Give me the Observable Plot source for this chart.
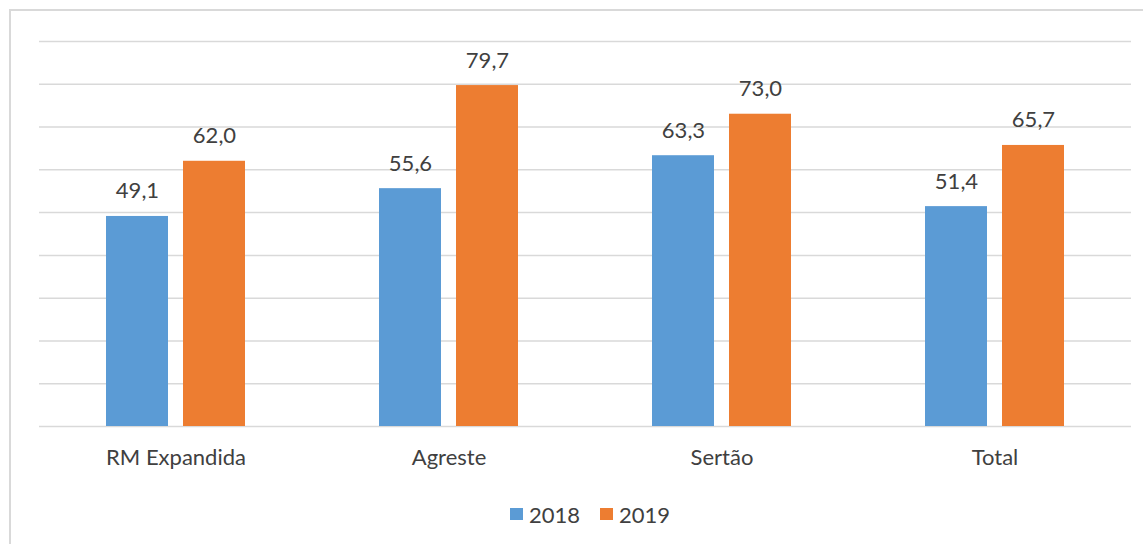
<!DOCTYPE html>
<html>
<head>
<meta charset="utf-8">
<script src="https://cdn.jsdelivr.net/npm/d3@7"></script>
<script src="https://cdn.jsdelivr.net/npm/@observablehq/plot@0.6"></script>
<style>
  html, body { margin: 0; padding: 0; background: #fff; width: 1143px; height: 544px; overflow: hidden; }
  #frame { position: absolute; left: 9px; top: 9px; width: 1300px; height: 700px; border-top: 2px solid #d9d9d9; border-left: 2px solid #d9d9d9; box-sizing: border-box; }
  #chart { position: absolute; left: 0; top: 0; }
  #legend { position: absolute; left: 0; top: 500px; width: 1180px; height: 28px; display: flex; align-items: center; justify-content: center; gap: 20px; font-family: Lato, "Open Sans", sans-serif; font-size: 22px; color: #404040; }
  #legend span.item { display: inline-flex; align-items: center; gap: 6px; }
  #legend span.sw { width: 13px; height: 12px; display: inline-block; }
</style>
</head>
<body>
<div id="frame"></div>
<div id="chart"></div>
<div id="legend"></div>
<script>
const categories = ["RM Expandida", "Agreste", "Sertão", "Total"];
const years = ["2018", "2019"];
const values2018 = [49.1, 55.6, 63.3, 51.4];
const values2019 = [62.0, 79.7, 73.0, 65.7];
const colors = ["#5B9BD5", "#ED7D31"];
const gridTicks = [0, 10, 20, 30, 40, 50, 60, 70, 80, 90];

const data = [];
categories.forEach((c, i) => {
  data.push({category: c, year: years[0], value: values2018[i]});
  data.push({category: c, year: years[1], value: values2019[i]});
});
const fmt = v => v.toFixed(1).replace(".", ",");

const chart = Plot.plot({
  width: 1143,
  height: 490,
  marginLeft: 39,
  marginRight: 12,
  marginTop: 41,
  marginBottom: 64,
  style: {fontFamily: "Lato, 'Open Sans', sans-serif", fontSize: "22px", color: "#404040", background: "transparent"},
  fx: {domain: categories, padding: 0, label: null, tickSize: 0, tickPadding: 23},
  x: {domain: years, paddingInner: 0.2, paddingOuter: 0.86, axis: null},
  y: {domain: [0, 90], axis: null},
  color: {domain: years, range: colors},
  marks: [
    Plot.ruleY(gridTicks, {stroke: "#d9d9d9", strokeWidth: 1.5}),
    Plot.barY(data, {fx: "category", x: "year", y: "value", fill: "year"}),
    Plot.text(data, {fx: "category", x: "year", y: "value", text: d => fmt(d.value), lineAnchor: "bottom", dy: -18, fill: "#404040", fontSize: 22})
  ]
});
document.getElementById("chart").appendChild(chart);

const legend = document.getElementById("legend");
years.forEach((y, i) => {
  const item = document.createElement("span");
  item.className = "item";
  const sw = document.createElement("span");
  sw.className = "sw";
  sw.style.background = colors[i];
  item.appendChild(sw);
  item.appendChild(document.createTextNode(y));
  legend.appendChild(item);
});
</script>
</body>
</html>
